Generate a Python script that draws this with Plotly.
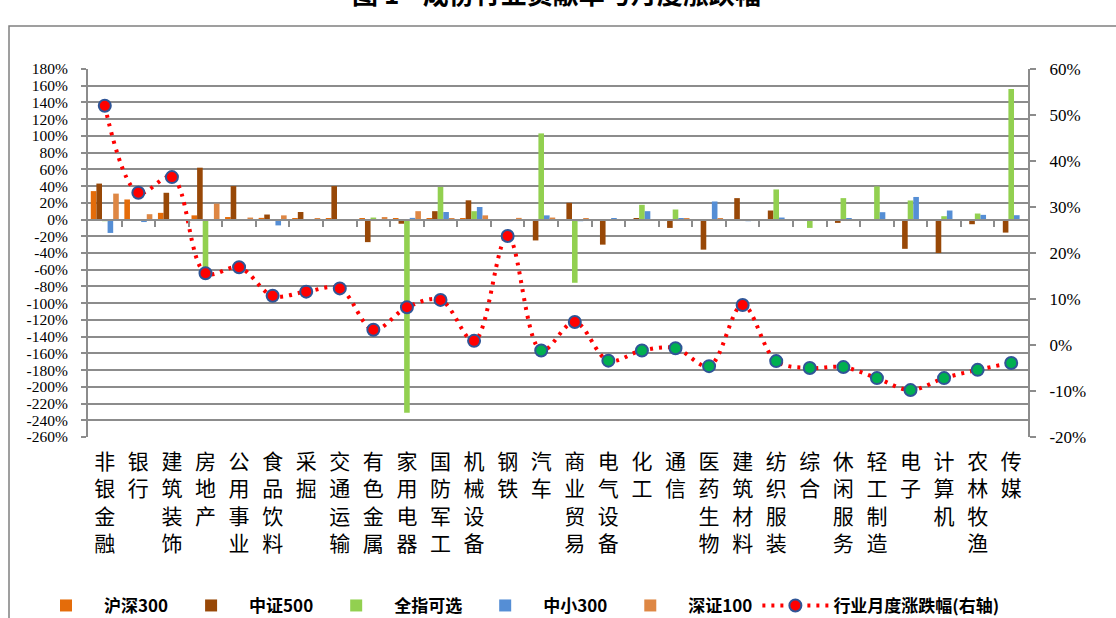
import plotly.graph_objects as go

categories = ["非银金融", "银行", "建筑装饰", "房地产", "公用事业", "食品饮料", "采掘",
              "交通运输", "有色金属", "家用电器", "国防军工", "机械设备", "钢铁", "汽车",
              "商业贸易", "电气设备", "化工", "通信", "医药生物", "建筑材料", "纺织服装",
              "综合", "休闲服务", "轻工制造", "电子", "计算机", "农林牧渔", "传媒"]

hs300 = [34, 24, 8, 5, 3, 2, 1.6, 1, 1.5, 1, 1, 1, 0.5, 0, 0, 0, 0, 0, 0, 0, 0, 0, 0, 0, 0, 0, 0, 0]
zz500 = [43, 0, 32, 62, 40, 6, 9, 40, -27, -5, 10, 23, 0, -25, 20, -30, 1, -10, -36, 25.6, 10.8, 0,
         -4, 0, -35, -40, -5.6, -15.6]
qzkx = [-2, 0, 0, -58, 0, 0, 0, 0.5, 2.4, -231, 39, 10, 0, 103, -75.6, 0, 17.6, 12, 0, 0, 36, -10,
        25.6, 39.6, 22.8, 4, 7.2, 156]
zx300 = [-16, -3, 0, 0, -1, -7, 0, 0, 0, 2, 9, 15, 0, 5, -2, 1, 10, 1.6, 21.6, -2, 2.4, 0, 1.6, 8.8,
         27, 10.8, 5.6, 5.2]
sz100 = [31, 6.4, 0, 19, 2.4, 5, 1, 0, 3, 10, 1, 5, 2, 2.4, 1, 0, 0, 1.6, 1.6, 0, 0, 0, 0, 0, 0, 0, 0, 0]
monthly = [52, 33.1, 36.5, 15.6, 16.9, 10.7, 11.6, 12.3, 3.3, 8.2, 9.8, 0.9, 23.7, -1.2, 5, -3.4,
           -1.2, -0.7, -4.6, 8.7, -3.5, -5, -4.8, -7.2, -9.8, -7.2, -5.4, -3.9]

left_ticks = list(range(-260, 181, 20))
right_ticks = list(range(-20, 61, 10))

series = [
    ("沪深300", hs300, "#E46C0A"),
    ("中证500", zz500, "#984807"),
    ("全指可选", qzkx, "#92D050"),
    ("中小300", zx300, "#558ED5"),
    ("深证100", sz100, "#DE8744"),
]

x_idx = list(range(len(categories)))
GRID = "#8C8C8C"
NUMFONT = "Liberation Serif, DejaVu Serif, serif"
CJK = "Noto Sans CJK SC"

fig = go.Figure()
for name, vals, color in series:
    fig.add_trace(go.Bar(x=x_idx, y=vals, name=name, marker=dict(color=color, line=dict(width=0)),
                         yaxis="y"))

marker_colors = ["#FF0000" if v >= 0 else "#00B050" for v in monthly]
fig.add_trace(go.Scatter(
    x=x_idx, y=monthly, name="行业月度涨跌幅(右轴)", yaxis="y2", mode="lines+markers",
    line=dict(color="#FF0000", width=4, dash="3px,6px", shape="spline", smoothing=1.0),
    marker=dict(size=12, color=marker_colors, line=dict(color="#2F5597", width=2)),
))

# invisible trace to activate zero-crossing category axis
fig.add_trace(go.Scatter(x=[], y=[], xaxis="x2", yaxis="y", showlegend=False, hoverinfo="skip"))

fig.update_layout(
    width=1116, height=618,
    margin=dict(l=88, r=88, t=69, b=181, autoexpand=False),
    paper_bgcolor="white", plot_bgcolor="white",
    barmode="group", bargap=0.166, bargroupgap=0,
    showlegend=True,
    legend=dict(orientation="h", x=(28 - 88) / 940, xanchor="left", y=-0.459, yanchor="middle",
                font=dict(family=CJK, size=17, color="black", weight="bold"),
                itemwidth=66, traceorder="normal", bgcolor="rgba(0,0,0,0)"),
    xaxis=dict(range=[-0.5, len(categories) - 0.5], tickmode="array", tickvals=x_idx,
               ticktext=["<br>".join(list(c)) for c in categories],
               tickfont=dict(family=CJK, size=21, color="black"),
               ticks="", showline=False, showgrid=False, zeroline=False, ticklabelstandoff=10),
    xaxis2=dict(range=[-0.5, len(categories) - 0.5], overlaying="x", anchor="free",
                position=260 / 440, side="bottom", tickmode="array",
                tickvals=[i + 0.5 for i in range(len(categories) - 1)],
                ticks="outside", ticklen=6, tickwidth=2, tickcolor=GRID,
                showticklabels=False, showline=True, linecolor=GRID, linewidth=2,
                showgrid=False, zeroline=False),
    yaxis=dict(range=[-260, 180], tickmode="array", tickvals=left_ticks,
               ticktext=[f"{v}%" for v in left_ticks],
               tickfont=dict(family=NUMFONT, size=15.5, color="black"),
               ticks="outside", ticklen=5, tickwidth=2, tickcolor=GRID,
               showline=True, linecolor=GRID, linewidth=2,
               showgrid=True, gridcolor=GRID, gridwidth=1.6, zeroline=False,
               ticklabelstandoff=10),
    yaxis2=dict(range=[-20, 60], overlaying="y", side="right", tickmode="array",
                tickvals=right_ticks, ticktext=[f"{v}%" for v in right_ticks],
                tickfont=dict(family=NUMFONT, size=17, color="black"),
                ticks="outside", ticklen=6, tickwidth=2, tickcolor=GRID,
                showline=True, linecolor=GRID, linewidth=2, showgrid=False, zeroline=False,
                ticklabelstandoff=10),
    shapes=[dict(type="rect", xref="paper", yref="paper",
                 x0=(9 - 88) / 940, x1=(1125 - 88) / 940,
                 y0=(437 - 630) / 368, y1=(437 - 26) / 368,
                 line=dict(color="#808080", width=1.5), fillcolor="rgba(0,0,0,0)", layer="below")],
    annotations=[dict(text="图 1    成份行业贡献率与月度涨跌幅", xref="paper", yref="paper",
                      x=(556 - 88) / 940, y=(437 - 13) / 368, xanchor="center", yanchor="bottom",
                      showarrow=False, font=dict(family=CJK, size=26, color="black", weight="bold"))],
)

fig.write_html("out.html", post_script="document.body.style.margin='0px';",
               config={"displayModeBar": False})
